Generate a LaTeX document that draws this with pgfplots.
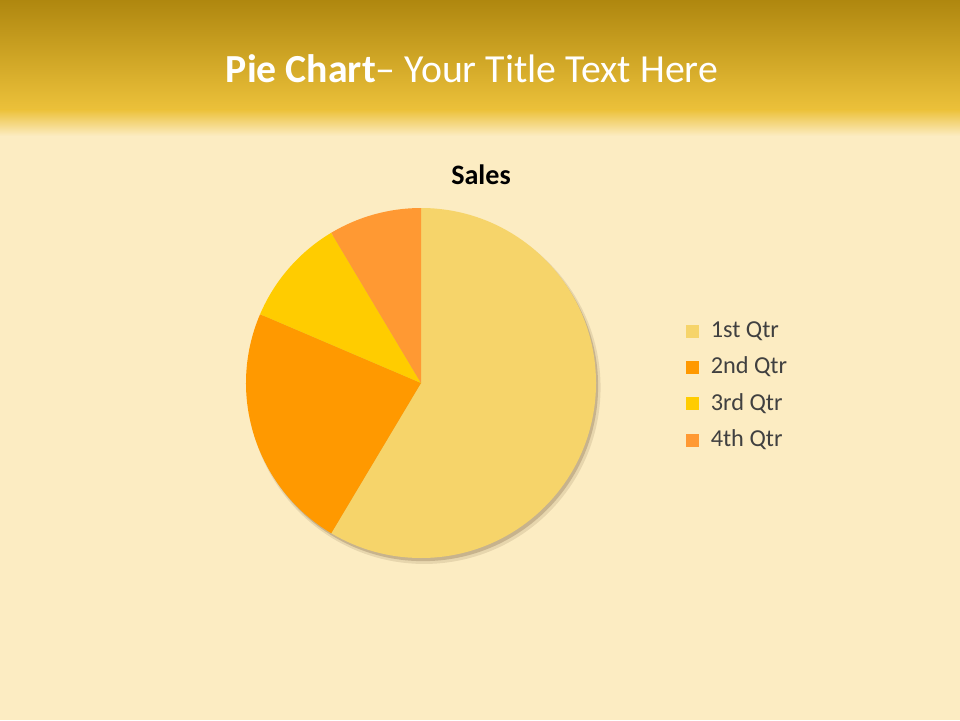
\documentclass[border=0pt]{standalone}
\usepackage{fontspec}
\setmainfont{Carlito}
\usepackage{pgfplots}
\usepackage{pgfplotstable}
\pgfplotsset{compat=1.18}

\definecolor{qone}{HTML}{F6D46A}
\definecolor{qtwo}{HTML}{FF9900}
\definecolor{qthree}{HTML}{FFCC00}
\definecolor{qfour}{HTML}{FF9933}
\definecolor{cream}{HTML}{FCECC2}
\definecolor{bandtop}{HTML}{AF870F}
\definecolor{bandbot}{HTML}{ECC13A}
\definecolor{legtext}{HTML}{404040}

\pgfplotstableread{
qtr value
1 8.2
2 3.2
3 1.4
4 1.2
}\sales

\begin{document}
\begin{tikzpicture}
  \useasboundingbox (0,0) rectangle (24,18);
  % slide background
  \fill[cream] (0,0) rectangle (24,18);
  \shade[top color=bandtop, bottom color=bandbot] (0,15.25) rectangle (24,18);
  \shade[top color=bandbot, bottom color=cream] (0,14.6) rectangle (24,15.26);
  \node[text=white, font=\fontsize{28.3}{34}\selectfont] at (11.8,16.28)
    {\textbf{Pie Chart}– Your Title Text Here};
  \node[text=black, font=\bfseries\fontsize{20}{24}\selectfont] at (12.025,13.62) {Sales};

  % slice angles from the table (clockwise from the top)
  \pgfplotstablegetelem{0}{value}\of\sales \let\va\pgfplotsretval
  \pgfplotstablegetelem{1}{value}\of\sales \let\vb\pgfplotsretval
  \pgfplotstablegetelem{2}{value}\of\sales \let\vc\pgfplotsretval
  \pgfplotstablegetelem{3}{value}\of\sales \let\vd\pgfplotsretval
  \pgfmathsetmacro\tot{\va+\vb+\vc+\vd}
  \pgfmathsetmacro\aa{90}
  \pgfmathsetmacro\ab{\aa-360*\va/\tot}
  \pgfmathsetmacro\ac{\ab-360*\vb/\tot}
  \pgfmathsetmacro\ad{\ac-360*\vc/\tot}
  \pgfmathsetmacro\ae{\ad-360*\vd/\tot}

  \begin{axis}[
      at={(10.525cm,8.425cm)}, anchor=center,
      width=8.75cm, height=8.75cm, scale only axis,
      xmin=-1, xmax=1, ymin=-1, ymax=1,
      axis equal image, hide axis, clip=false,
      legend image code/.code={\fill[#1] (0cm,-0.17cm) rectangle (0.3cm,0.13cm);},
      legend cell align=left,
      legend style={at={(1.257,0.494)}, anchor=west, draw=none, fill=none,
        inner sep=0pt, row sep=8.5pt,
        font=\fontsize{17.3}{20}\selectfont, text=legtext,
        nodes={inner xsep=8.5pt}},
    ]
    % soft shadow
    \fill[black!55!brown, opacity=0.12] (axis cs:0.018,-0.026) circle[radius=1.008];
    \fill[black!55!brown, opacity=0.22] (axis cs:0.012,-0.018) circle[radius=1.0];
    \fill[qone] (axis cs:0,0) -- (axis cs:{cos(\aa)},{sin(\aa)})
      arc[start angle=\aa, end angle=\ab, radius=1] -- cycle;
    \fill[qtwo] (axis cs:0,0) -- (axis cs:{cos(\ab)},{sin(\ab)})
      arc[start angle=\ab, end angle=\ac, radius=1] -- cycle;
    \fill[qthree] (axis cs:0,0) -- (axis cs:{cos(\ac)},{sin(\ac)})
      arc[start angle=\ac, end angle=\ad, radius=1] -- cycle;
    \fill[qfour] (axis cs:0,0) -- (axis cs:{cos(\ad)},{sin(\ad)})
      arc[start angle=\ad, end angle=\ae, radius=1] -- cycle;
    \addlegendimage{qone}
    \addlegendentry{1st Qtr}
    \addlegendimage{qtwo}
    \addlegendentry{2nd Qtr}
    \addlegendimage{qthree}
    \addlegendentry{3rd Qtr}
    \addlegendimage{qfour}
    \addlegendentry{4th Qtr}
  \end{axis}
\end{tikzpicture}
\end{document}
